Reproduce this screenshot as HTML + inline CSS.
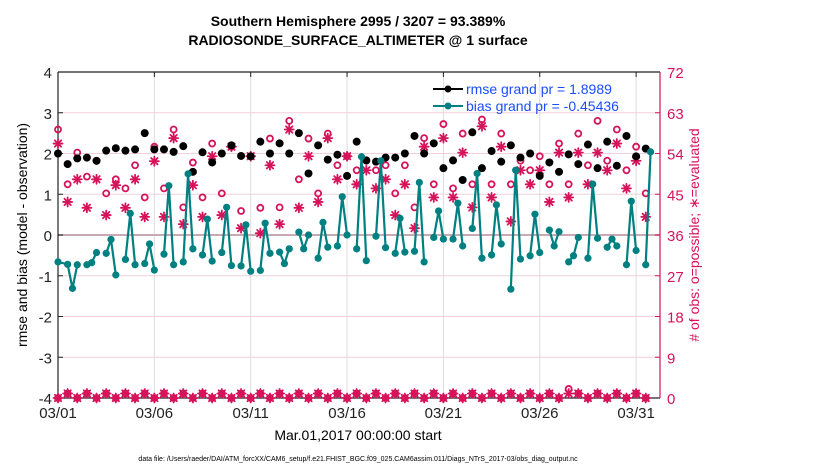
<!DOCTYPE html>
<html><head><meta charset="utf-8">
<style>
body{margin:0;background:#fff;}
svg{display:block;font-family:"Liberation Sans",sans-serif;}
</style></head>
<body>
<svg id="chart" width="830" height="470" viewBox="0 0 830 470" xmlns="http://www.w3.org/2000/svg">
<rect width="830" height="470" fill="#fff"/>
<text x="358" y="26" text-anchor="middle" font-size="14" font-weight="bold">Southern Hemisphere 2995 / 3207 = 93.389%</text>
<text x="358" y="45" text-anchor="middle" font-size="14" font-weight="bold">RADIOSONDE_SURFACE_ALTIMETER @ 1 surface</text>
<g id="grid"></g>
<g id="axes"></g>
<g id="marks"></g>
<g id="legend">
<line x1="433" y1="89" x2="463" y2="89" stroke="#000" stroke-width="2"/>
<circle cx="448" cy="89" r="3.5" fill="#000"/>
<text x="466" y="94" font-size="14" fill="#1a4dff">rmse grand pr = 1.8989</text>
<line x1="433" y1="106" x2="463" y2="106" stroke="#008080" stroke-width="2"/>
<circle cx="448" cy="106" r="3.5" fill="#008080"/>
<text x="466" y="111" font-size="14" fill="#1a4dff">bias grand pr = -0.45436</text>
</g>
<text transform="translate(27,235) rotate(-90)" text-anchor="middle" font-size="14">rmse and bias (model - observation)</text>
<text transform="translate(699,235) rotate(-90)" text-anchor="middle" font-size="14" fill="#d6135a">#  of obs: o=possible; ∗=evaluated</text>
<text x="358" y="440" text-anchor="middle" font-size="14">Mar.01,2017 00:00:00 start</text>
<text x="358" y="461" text-anchor="middle" font-size="7">data file: /Users/raeder/DAI/ATM_forcXX/CAM6_setup/f.e21.FHIST_BGC.f09_025.CAM6assim.011/Diags_NTrS_2017-03/obs_diag_output.nc</text>
</svg>
<script>
const xTickLabels=["03/01","03/06","03/11","03/16","03/21","03/26","03/31"];
const xTickDays=[0,5,10,15,20,25,30];
const yLeftTicks=[-4,-3,-2,-1,0,1,2,3,4];
const yRightTicks=[0,9,18,27,36,45,54,63,72];
const rmse=[2.0,1.74,1.88,1.9,1.82,2.07,2.13,2.07,2.1,2.5,2.1,2.1,2.04,2.18,1.55,2.03,1.78,2.0,2.2,1.94,1.93,2.29,2.0,2.25,2.0,2.5,1.51,2.2,1.85,1.97,1.45,2.29,1.83,1.8,1.9,1.9,2.0,2.43,2.0,2.25,1.64,1.83,1.35,2.52,1.64,2.06,1.8,2.2,1.9,2.0,1.45,1.78,1.55,1.98,1.74,2.22,1.64,2.29,1.7,2.43,1.93,2.12];
const bias=[-0.66,-0.72,-1.31,-0.73,-0.73,-0.68,-0.43,-0.45,-0.11,-0.98,-0.6,0.53,-0.73,-0.7,-0.22,-0.86,-0.47,1.21,-0.73,-0.66,1.5,-0.34,-0.49,0.39,-0.64,-0.43,0.68,-0.75,-0.76,0.25,-0.89,-0.87,0.29,-0.45,-0.42,-0.7,-0.34,0.07,-0.34,0.0,-0.57,0.31,-0.3,-0.27,0.94,0.0,-0.34,1.92,-0.63,-0.03,1.82,-0.31,-0.45,0.41,-0.42,-0.4,1.29,-0.66,-0.06,0.59,-0.1,-0.1,0.78,-0.27,0.16,1.51,-0.57,-0.49,0.74,-0.22,-1.33,1.59,-0.59,-0.51,0.51,-0.43,0.12,-0.27,0.08,-0.66,-0.51,-0.06,-0.57,1.25,-0.08,-0.3,-0.1,-0.27,-0.73,0.83,-0.38,-0.73,2.04];
const possible=[59.3,47.2,54.2,48.9,52.4,45.2,48.3,46.3,51.4,44.3,55.5,46.3,59.3,42.1,52,44.3,56.2,45.2,55.5,41.3,53.4,42,57.3,42.1,61.2,48.3,57.3,45.2,58.4,51.4,53.4,50.3,52.4,50.3,51.4,45.2,51.4,42.1,57.4,47.2,60.5,46.3,58.4,47.2,61.5,47.2,58.4,47.2,52.4,50.3,53.4,47.2,56.2,47.2,58.4,51.4,61.2,52.4,59.3,50.3,55.5,45.2];
const evaluated=[56.2,43.3,48.3,42.0,48.3,40.4,47,42,48.3,40,52.3,40,57.4,38.4,47,40,53.4,40.4,55.5,37.5,53.4,36.4,51.4,38.4,59.3,42,53.4,43.3,57.4,48.3,53.4,47.2,50.3,46.3,48.3,40.4,47.2,37.5,55.5,44.3,57.4,44.3,54.2,42.1,60,44.3,55.5,39,50.3,47.2,50.3,43.3,54.2,44.3,54.2,47.2,54.2,50.3,56.2,46.3,52.4,40];
const possibleLow=[0,1,0,1,0,1,0,1,0,1,0,1,0,1,0,1,0,1,0,1,0,1,0,1,0,1,0,1,0,1,0,1,0,1,0,1,0,1,0,1,0,1,0,1,0,1,0,1,0,1,0,1,0,2,1,0,1,0,1,0,1,0];
const evaluatedLow=[0,1,0,1,0,1,0,1,0,1,0,1,0,1,0,1,0,1,0,1,0,1,0,1,0,1,0,1,0,1,0,1,0,1,0,1,0,1,0,1,0,1,0,1,0,1,0,1,0,1,0,1,0,1,1,0,1,0,1,0,1,0];

const NS="http://www.w3.org/2000/svg";
const L=58,R=660,T=72,B=398;
const dayMin=0,dayMax=31.24;
const X=d=>L+(d-dayMin)/(dayMax-dayMin)*(R-L);
const Y=v=>B-(v+4)/8*(B-T);
const Y2=n=>B-n/72*(B-T);
function mk(tag,attrs,parent){const e=document.createElementNS(NS,tag);for(const k in attrs)e.setAttribute(k,attrs[k]);parent.appendChild(e);return e;}
const grid=document.getElementById('grid'),axes=document.getElementById('axes'),marks=document.getElementById('marks');

xTickDays.forEach((d,i)=>{
  const gl=mk('line',{x1:X(d),x2:X(d),y1:T,y2:B,stroke:'#dcdcdc','stroke-width':1},grid);
  
  
  const tk=mk('line',{x1:X(d),x2:X(d),y1:B,y2:B-5,stroke:'#222'},axes);
  
  
  const tx=mk('text',{x:X(d),y:B+20,'text-anchor':'middle','font-size':15,fill:'#222'},axes);
  tx.textContent=xTickLabels[i];
  
  
  const tt=mk('line',{x1:X(d),x2:X(d),y1:T,y2:T+5,stroke:'#222'},axes);
  
  
});
yRightTicks.forEach(n=>{
  if(n>0&&n<72){
    const gl=mk('line',{x1:L,x2:R,y1:Y2(n),y2:Y2(n),stroke:(n===36?'#c9a9b2':'#f0d0dc'),'stroke-width':(n===36?2:1)},grid);
    
    
  }
  const tk=mk('line',{x1:R,x2:R-5,y1:Y2(n),y2:Y2(n),stroke:'#d6135a'},axes);
  
  
  const tx=mk('text',{x:R+7,y:Y2(n)+6,'font-size':15,fill:'#d6135a'},axes);
  tx.textContent=n;
  
  
});
yLeftTicks.forEach(v=>{
  const tk=mk('line',{x1:L,x2:L+5,y1:Y(v),y2:Y(v),stroke:'#222'},axes);
  
  
  const tx=mk('text',{x:L-6,y:Y(v)+6,'text-anchor':'end','font-size':15,fill:'#222'},axes);
  tx.textContent=v;
  
  
});
const fr=[[L,T,L,B,'#222'],[L,B,R,B,'#222'],[L,T,R,T,'#222'],[R,T,R,B,'#d6135a']];
fr.forEach(f=>{const a=mk('line',{x1:f[0],y1:f[1],x2:f[2],y2:f[3],stroke:f[4],'stroke-width':1.2},axes);
  
  });

function star(cx,cy,parent){
  const g=mk('g',{stroke:'#d6135a','stroke-width':1.8,'stroke-linecap':'round'},parent);
  [[0,4.5],[4.5,0],[3.2,3.2],[3.2,-3.2]].forEach(o=>mk('line',{x1:cx-o[0],y1:cy-o[1],x2:cx+o[0],y2:cy+o[1]},g));
  return g;
}
// possible / evaluated counts
possible.forEach((n,k)=>{
  const c=mk('circle',{cx:X(k*0.5),cy:Y2(n),r:3,fill:'none',stroke:'#d6135a','stroke-width':1.8},marks);
  
  
});
evaluated.forEach((n,k)=>{
  const s=star(X(k*0.5),Y2(n),marks);
  
  
});
possibleLow.forEach((n,k)=>{
  const c=mk('circle',{cx:X(k*0.5),cy:Y2(n),r:3,fill:'none',stroke:'#d6135a','stroke-width':1.8},marks);
  
  
});
evaluatedLow.forEach((n,k)=>{
  const s=star(X(k*0.5),Y2(n),marks);
  
  
});
// rmse
rmse.forEach((v,k)=>{
  const c=mk('circle',{cx:X(k*0.5),cy:Y(v),r:4,fill:'#000'},marks);
  
  
});
// bias: 6-hourly slots, skipping slot index j%4==1
const biasSlots=[];
for(let j=0;biasSlots.length<bias.length;j++){if(j%4!==1)biasSlots.push(j);}
let d='';
bias.forEach((v,i)=>{
  const j=biasSlots[i];
  const brk=(i===0)||(j%4===2&&j>2);
  d+=(brk?'M':'L')+X(j*0.25).toFixed(1)+' '+Y(v).toFixed(1)+' ';
});
const bl=mk('path',{d:d,fill:'none',stroke:'#008080','stroke-width':2.2,'stroke-linejoin':'round'},marks);


bias.forEach((v,i)=>{
  const c=mk('circle',{cx:X(biasSlots[i]*0.25),cy:Y(v),r:3.6,fill:'#008080'},marks);
  
  
});
</script>
</body></html>
